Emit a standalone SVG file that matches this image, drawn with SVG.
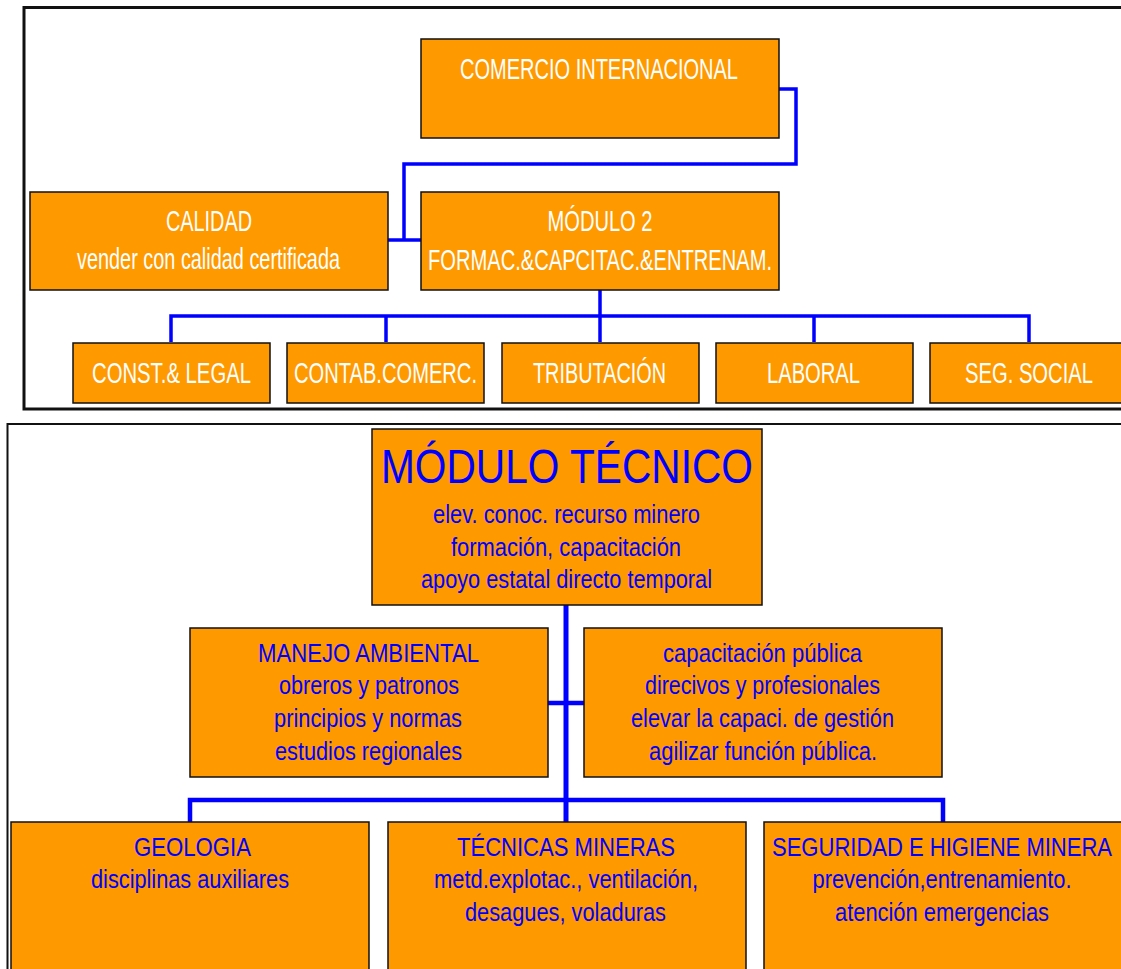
<svg xmlns="http://www.w3.org/2000/svg" width="1121" height="969" viewBox="0 0 1121 969">
<style>
.frame{fill:#fff;stroke:#111;}
.box{fill:#FF9900;stroke:#111;stroke-width:1.5;}
.w{font-family:"Liberation Sans",Arial,sans-serif;font-size:29px;fill:#fff;text-anchor:middle;}
.b{font-family:"Liberation Sans",Arial,sans-serif;font-size:25px;fill:#0000FF;text-anchor:middle;}
.big{font-family:"Liberation Sans",Arial,sans-serif;font-size:49px;fill:#0000FF;text-anchor:middle;}
.c{fill:none;stroke:#0000FF;stroke-linejoin:miter;}
</style>
<rect width="1121" height="969" fill="#fff"/>
<rect id="frame-top" class="frame" x="24" y="7.5" width="1110" height="401.5" stroke-width="3"/>
<rect id="frame-bottom" class="frame" x="7.5" y="424" width="1130" height="560" stroke-width="2"/>
<g id="connectors">
<path class="c" stroke-width="3.5" d="M779,89 H796 V164 H404 V240"/>
<path class="c" stroke-width="3.5" d="M388,240 H421"/>
<path class="c" stroke-width="3.5" d="M600,290 V342"/>
<path class="c" stroke-width="3.5" d="M171,342 V316 H1029 V342"/>
<path class="c" stroke-width="3.5" d="M386,316 V342 M814,316 V342"/>
<path class="c" stroke-width="5" d="M566,605 V822"/>
<path class="c" stroke-width="4.5" d="M548,703 H584"/>
<path class="c" stroke-width="4.5" d="M190,822 V800 H943 V822"/>
</g>
<g id="comercio">
<rect class="box" x="421" y="39" width="358" height="99"/>
<text class="w" x="599" y="79" textLength="278" lengthAdjust="spacingAndGlyphs">COMERCIO INTERNACIONAL</text>
</g>
<g id="modulo2">
<rect class="box" x="421" y="192" width="358" height="98"/>
<text class="w" x="600" y="231" textLength="105" lengthAdjust="spacingAndGlyphs">MÓDULO 2</text>
<text class="w" x="600" y="270" textLength="344" lengthAdjust="spacingAndGlyphs">FORMAC.&amp;CAPCITAC.&amp;ENTRENAM.</text>
</g>
<g id="calidad">
<rect class="box" x="30" y="192" width="358" height="98"/>
<text class="w" x="209" y="231" textLength="86" lengthAdjust="spacingAndGlyphs">CALIDAD</text>
<text class="w" x="208.5" y="269" textLength="263" lengthAdjust="spacingAndGlyphs">vender con calidad certificada</text>
</g>
<g id="const-legal">
<rect class="box" x="73" y="343" width="197" height="60"/>
<text class="w" x="171.5" y="383" textLength="159" lengthAdjust="spacingAndGlyphs">CONST.&amp; LEGAL</text>
</g>
<g id="contab">
<rect class="box" x="287" y="343" width="197" height="60"/>
<text class="w" x="385.5" y="383" textLength="183" lengthAdjust="spacingAndGlyphs">CONTAB.COMERC.</text>
</g>
<g id="tributacion">
<rect class="box" x="502" y="343" width="197" height="60"/>
<text class="w" x="599.5" y="383" textLength="133" lengthAdjust="spacingAndGlyphs">TRIBUTACIÓN</text>
</g>
<g id="laboral">
<rect class="box" x="716" y="343" width="197" height="60"/>
<text class="w" x="813.5" y="383" textLength="93" lengthAdjust="spacingAndGlyphs">LABORAL</text>
</g>
<g id="seg-social">
<rect class="box" x="930" y="343" width="197" height="60"/>
<text class="w" x="1029" y="383" textLength="128" lengthAdjust="spacingAndGlyphs">SEG. SOCIAL</text>
</g>
<g id="modulo-tecnico">
<rect class="box" x="372" y="429" width="390" height="176"/>
<text class="big" x="567" y="483" textLength="372" lengthAdjust="spacingAndGlyphs">MÓDULO TÉCNICO</text>
<text class="b" x="566.5" y="523" textLength="267" lengthAdjust="spacingAndGlyphs">elev. conoc. recurso minero</text>
<text class="b" x="566" y="556" textLength="230" lengthAdjust="spacingAndGlyphs">formación, capacitación</text>
<text class="b" x="566.5" y="588" textLength="291" lengthAdjust="spacingAndGlyphs">apoyo estatal directo temporal</text>
</g>
<g id="manejo-ambiental">
<rect class="box" x="190" y="628" width="358" height="149"/>
<text class="b" x="368.5" y="662" textLength="221" lengthAdjust="spacingAndGlyphs">MANEJO AMBIENTAL</text>
<text class="b" x="369" y="694" textLength="180" lengthAdjust="spacingAndGlyphs">obreros y patronos</text>
<text class="b" x="368" y="727" textLength="188" lengthAdjust="spacingAndGlyphs">principios y normas</text>
<text class="b" x="368.5" y="760" textLength="187" lengthAdjust="spacingAndGlyphs">estudios regionales</text>
</g>
<g id="capacitacion-publica">
<rect class="box" x="584" y="628" width="358" height="149"/>
<text class="b" x="762.5" y="662" textLength="199" lengthAdjust="spacingAndGlyphs">capacitación pública</text>
<text class="b" x="762.5" y="694" textLength="235" lengthAdjust="spacingAndGlyphs">direcivos y profesionales</text>
<text class="b" x="762.5" y="727" textLength="263" lengthAdjust="spacingAndGlyphs">elevar la capaci. de gestión</text>
<text class="b" x="763" y="760" textLength="228" lengthAdjust="spacingAndGlyphs">agilizar función pública.</text>
</g>
<g id="geologia">
<rect class="box" x="11" y="822" width="358" height="160"/>
<text class="b" x="192.5" y="856" textLength="117" lengthAdjust="spacingAndGlyphs">GEOLOGIA</text>
<text class="b" x="190" y="888" textLength="198" lengthAdjust="spacingAndGlyphs">disciplinas auxiliares</text>
</g>
<g id="tecnicas-mineras">
<rect class="box" x="388" y="822" width="358" height="160"/>
<text class="b" x="566" y="856" textLength="218" lengthAdjust="spacingAndGlyphs">TÉCNICAS MINERAS</text>
<text class="b" x="566" y="888" textLength="264" lengthAdjust="spacingAndGlyphs">metd.explotac., ventilación,</text>
<text class="b" x="565.5" y="921" textLength="201" lengthAdjust="spacingAndGlyphs">desagues, voladuras</text>
</g>
<g id="seguridad-higiene">
<rect class="box" x="764" y="822" width="358" height="160"/>
<text class="b" x="942" y="856" textLength="340" lengthAdjust="spacingAndGlyphs">SEGURIDAD E HIGIENE MINERA</text>
<text class="b" x="942" y="888" textLength="259" lengthAdjust="spacingAndGlyphs">prevención,entrenamiento.</text>
<text class="b" x="942" y="921" textLength="214" lengthAdjust="spacingAndGlyphs">atención emergencias</text>
</g>
</svg>
